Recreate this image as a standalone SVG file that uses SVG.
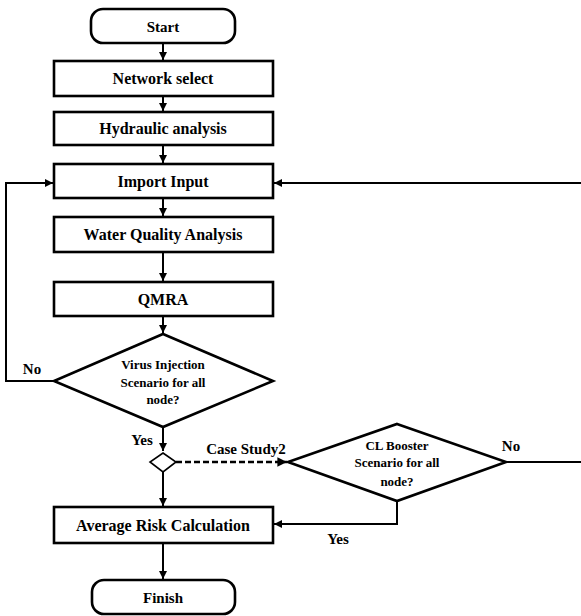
<svg xmlns="http://www.w3.org/2000/svg" width="581" height="616" viewBox="0 0 581 616">
<style>
.box{fill:#fff;stroke:#000;stroke-width:2.6}
.t{font-family:"Liberation Serif","Times New Roman",serif;font-weight:bold;fill:#000;text-anchor:middle}
.b{font-size:16px}
.s{font-size:15px}
.d{font-size:13px}
.c{fill:none;stroke:#000;stroke-width:2}
.dash{stroke-dasharray:6,3;stroke-width:2.4}
</style>
<defs>
<marker id="ah" viewBox="0 0 10 10" refX="10" refY="5" markerWidth="4" markerHeight="4" orient="auto" markerUnits="strokeWidth">
<path d="M0,0 L10,5 L0,10 z" fill="#000"/>
</marker>
</defs>
<rect width="581" height="616" fill="#fff"/>
<g id="connectors">
<line class="c" x1="163" y1="43" x2="163" y2="60" marker-end="url(#ah)"/>
<line class="c" x1="163" y1="96" x2="163" y2="111" marker-end="url(#ah)"/>
<line class="c" x1="163" y1="145" x2="163" y2="163" marker-end="url(#ah)"/>
<line class="c" x1="163" y1="198" x2="163" y2="216" marker-end="url(#ah)"/>
<line class="c" x1="163" y1="252" x2="163" y2="281" marker-end="url(#ah)"/>
<line class="c" x1="163" y1="316" x2="163" y2="333" marker-end="url(#ah)"/>
<polyline class="c" points="54,381 6,381 6,183 53,183" marker-end="url(#ah)"/>
<line class="c" x1="581" y1="183" x2="274" y2="183" marker-end="url(#ah)"/>
<line class="c" x1="163" y1="427" x2="163" y2="451" marker-end="url(#ah)"/>
<line class="c dash" x1="176" y1="462" x2="287" y2="462" marker-end="url(#ah)"/>
<line class="c" x1="163" y1="472" x2="163" y2="506" marker-end="url(#ah)"/>
<line class="c" x1="506" y1="462" x2="581" y2="462"/>
<polyline class="c" points="397,501 397,524 274,524" marker-end="url(#ah)"/>
<line class="c" x1="163" y1="543" x2="163" y2="579" marker-end="url(#ah)"/>
<text class="t s" x="32" y="374">No</text>
<text class="t s" x="142" y="445">Yes</text>
<text class="t s" x="246" y="454">Case Study2</text>
<text class="t s" x="511" y="451">No</text>
<text class="t s" x="338" y="544">Yes</text>
</g>
<g id="start">
<rect class="box" x="91" y="9" width="144" height="34" rx="12"/>
<text class="t s" x="163" y="32">Start</text>
</g>
<g id="network">
<rect class="box" x="54" y="61" width="219" height="35"/>
<text class="t b" x="163" y="84">Network select</text>
</g>
<g id="hydraulic">
<rect class="box" x="54" y="112" width="219" height="33"/>
<text class="t b" x="163" y="134">Hydraulic analysis</text>
</g>
<g id="import">
<rect class="box" x="54" y="164" width="219" height="34"/>
<text class="t b" x="163" y="187">Import Input</text>
</g>
<g id="wqa">
<rect class="box" x="54" y="217" width="219" height="35"/>
<text class="t b" x="163" y="240">Water Quality Analysis</text>
</g>
<g id="qmra">
<rect class="box" x="54" y="282" width="219" height="34"/>
<text class="t b" x="163" y="305">QMRA</text>
</g>
<g id="virus">
<polygon class="box" points="163,334 273,381 163,427 54,381"/>
<text class="t d" x="163" y="369">Virus Injection</text>
<text class="t d" x="163" y="387">Scenario for all</text>
<text class="t d" x="163" y="404">node?</text>
</g>
<g id="junction">
<polygon fill="#fff" stroke="#000" stroke-width="1.6" points="163,453 176,462 163,472 150,462"/>
</g>
<g id="booster">
<polygon class="box" points="397,424 506,462 397,501 288,462"/>
<text class="t d" x="397" y="450">CL Booster</text>
<text class="t d" x="397" y="467">Scenario for all</text>
<text class="t d" x="397" y="486">node?</text>
</g>
<g id="avg">
<rect class="box" x="54" y="507" width="219" height="36"/>
<text class="t b" x="163" y="531">Average Risk Calculation</text>
</g>
<g id="finish">
<rect class="box" x="92" y="580" width="143" height="34" rx="12"/>
<text class="t s" x="163" y="603">Finish</text>
</g>
</svg>
